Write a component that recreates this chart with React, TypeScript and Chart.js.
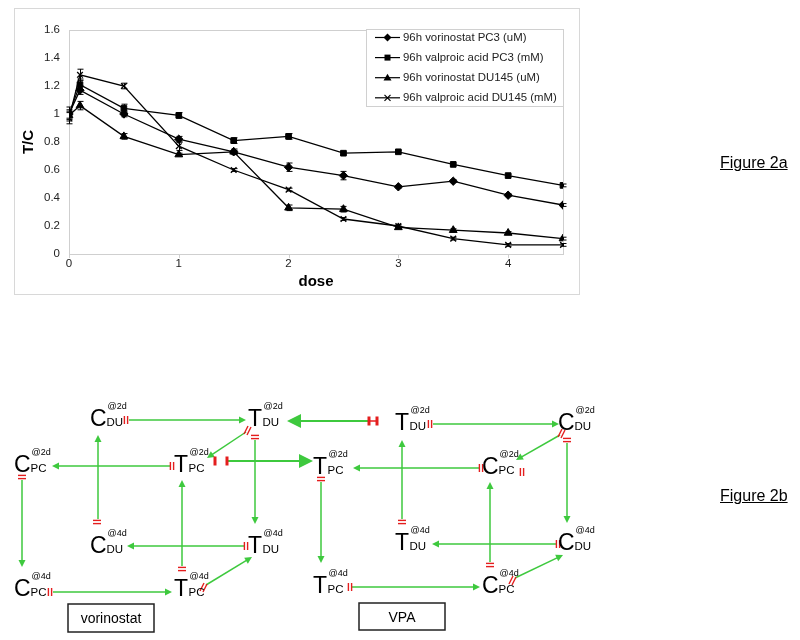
import React, { useEffect, useRef } from 'react';
import { Chart, registerables } from 'chart.js';

Chart.register(...registerables);

// ---------- DATA ----------
const doses = [0, 0.1, 0.5, 1, 1.5, 2, 2.5, 3, 3.5, 4, 4.5];
const vorinostatPC3 = [1.0, 1.17, 1.0, 0.82, 0.73, 0.62, 0.56, 0.48, 0.52, 0.42, 0.35];
const vorinostatPC3Err = [0.03, 0.03, 0.02, 0.02, 0.01, 0.03, 0.03, 0.01, 0.01, 0.01, 0.01];
const valproicPC3 = [1.0, 1.21, 1.04, 0.99, 0.81, 0.84, 0.72, 0.73, 0.64, 0.56, 0.49];
const valproicPC3Err = [0.05, 0.04, 0.03, 0.02, 0.02, 0.02, 0.01, 0.01, 0.01, 0.01, 0.01];
const vorinostatDU145 = [0.99, 1.06, 0.84, 0.71, 0.73, 0.33, 0.32, 0.19, 0.17, 0.15, 0.11];
const vorinostatDU145Err = [0.03, 0.03, 0.02, 0.01, 0.02, 0.02, 0.02, 0.01, 0.01, 0.01, 0.01];
const valproicDU145 = [0.97, 1.28, 1.2, 0.77, 0.6, 0.46, 0.25, 0.2, 0.11, 0.065, 0.065];
const valproicDU145Err = [0.04, 0.04, 0.02, 0.03, 0.01, 0.01, 0.01, 0.01, 0.01, 0.01, 0.01];
const seriesLabels = [
  '96h vorinostat PC3 (uM)',
  '96h valproic acid PC3 (mM)',
  '96h vorinostat DU145 (uM)',
  '96h valproic acid DU145 (mM)',
];
const xTickValues = [0, 1, 2, 3, 4];
const yTickValues = [0, 0.2, 0.4, 0.6, 0.8, 1, 1.2, 1.4, 1.6];
const xTitle = 'dose';
const yTitle = 'T/C';

const seriesValues = [vorinostatPC3, valproicPC3, vorinostatDU145, valproicDU145];
const seriesErrors = [vorinostatPC3Err, valproicPC3Err, vorinostatDU145Err, valproicDU145Err];
const pointStyles = ['rectRot', 'rect', 'triangle', 'crossRot'];
const pointRadii = [4.2, 4, 4.5, 4];

const FONT = '"Liberation Sans", Arial, Helvetica, sans-serif';

function drawMarker(ctx: CanvasRenderingContext2D, style: string, x: number, y: number, r: number) {
  ctx.save();
  ctx.fillStyle = '#000';
  ctx.strokeStyle = '#000';
  ctx.lineWidth = 1.2;
  ctx.beginPath();
  if (style === 'rectRot') {
    ctx.moveTo(x, y - r); ctx.lineTo(x + r, y); ctx.lineTo(x, y + r); ctx.lineTo(x - r, y); ctx.closePath(); ctx.fill();
  } else if (style === 'rect') {
    const s = r * 0.75;
    ctx.rect(x - s, y - s, 2 * s, 2 * s); ctx.fill();
  } else if (style === 'triangle') {
    ctx.moveTo(x, y - r); ctx.lineTo(x + r, y + r * 0.7); ctx.lineTo(x - r, y + r * 0.7); ctx.closePath(); ctx.fill();
  } else {
    const s = r * 0.75;
    ctx.moveTo(x - s, y - s); ctx.lineTo(x + s, y + s); ctx.moveTo(x + s, y - s); ctx.lineTo(x - s, y + s); ctx.stroke();
  }
  ctx.restore();
}

const framePlugin = {
  id: 'frame',
  beforeDatasetsDraw(chart: any) {
    const { ctx, chartArea } = chart;
    const { left, right, top, bottom } = chartArea;
    ctx.save();
    ctx.strokeStyle = '#cfcfcf';
    ctx.lineWidth = 1;
    ctx.strokeRect(Math.round(left) + 0.5, Math.round(top) + 0.5, Math.round(right - left), Math.round(bottom - top));
    const xs = chart.scales.x;
    ctx.beginPath();
    xTickValues.forEach((v) => {
      const px = Math.round(xs.getPixelForValue(v)) + 0.5;
      ctx.moveTo(px, Math.round(bottom));
      ctx.lineTo(px, Math.round(bottom) + 4);
    });
    ctx.stroke();
    ctx.restore();
  },
};

const errorBarPlugin = {
  id: 'errbars',
  afterDatasetsDraw(chart: any) {
    const { ctx } = chart;
    const ys = chart.scales.y;
    ctx.save();
    ctx.strokeStyle = '#000';
    ctx.lineWidth = 1;
    chart.data.datasets.forEach((ds: any, di: number) => {
      const meta = chart.getDatasetMeta(di);
      meta.data.forEach((pt: any, i: number) => {
        const v = seriesValues[di][i];
        const e = seriesErrors[di][i];
        const y1 = ys.getPixelForValue(v + e);
        const y2 = ys.getPixelForValue(v - e);
        const x = Math.round(pt.x) + 0.5;
        ctx.beginPath();
        ctx.moveTo(x, y1); ctx.lineTo(x, y2);
        ctx.moveTo(x - 3, y1); ctx.lineTo(x + 3, y1);
        ctx.moveTo(x - 3, y2); ctx.lineTo(x + 3, y2);
        ctx.stroke();
      });
    });
    ctx.restore();
  },
};

const legendPlugin = {
  id: 'xlLegend',
  afterDraw(chart: any) {
    const { ctx } = chart;
    const bx = 351.5, by = 20.5, bw = 197, bh = 77;
    ctx.save();
    ctx.fillStyle = '#fff';
    ctx.fillRect(bx, by, bw, bh);
    ctx.strokeStyle = '#d0d0d0';
    ctx.lineWidth = 1;
    ctx.strokeRect(bx, by, bw, bh);
    ctx.font = `11.4px ${FONT}`;
    ctx.textBaseline = 'middle';
    ctx.textAlign = 'left';
    seriesLabels.forEach((label, i) => {
      const y = 28.5 + i * 20.1;
      ctx.strokeStyle = '#000';
      ctx.lineWidth = 1.2;
      ctx.beginPath();
      ctx.moveTo(360, y); ctx.lineTo(385, y);
      ctx.stroke();
      drawMarker(ctx, pointStyles[i], 372.5, y, 4);
      ctx.fillStyle = '#222';
      ctx.fillText(label, 388, y + 0.5);
    });
    ctx.restore();
  },
};

function ChartPanel() {
  const ref = useRef<HTMLCanvasElement | null>(null);
  useEffect(() => {
    if (!ref.current) return;
    const chart = new Chart(ref.current, {
      type: 'line',
      data: {
        datasets: seriesValues.map((vals, si) => ({
          label: seriesLabels[si],
          data: doses.map((d, i) => ({ x: d, y: vals[i] })),
          borderColor: '#000',
          backgroundColor: '#000',
          borderWidth: 1.3,
          pointStyle: pointStyles[si] as any,
          pointRadius: pointRadii[si],
          pointBorderWidth: si === 3 ? 1.3 : 1,
          pointBorderColor: '#000',
          pointBackgroundColor: '#000',
          tension: 0,
          fill: false,
        })),
      },
      options: {
        animation: false,
        responsive: false,
        maintainAspectRatio: false,
        events: [],
        layout: { padding: { top: 21, right: 16, left: 0, bottom: 0 } },
        plugins: { legend: { display: false }, tooltip: { enabled: false } },
        scales: {
          x: {
            type: 'linear',
            min: 0,
            max: 4.5,
            afterBuildTicks: (s: any) => { s.ticks = xTickValues.map((v) => ({ value: v })); },
            afterFit: (s: any) => { s.height = 40; },
            grid: { display: false, drawTicks: false },
            border: { display: false },
            ticks: {
              padding: 3,
              autoSkip: false,
              maxRotation: 0,
              color: '#222',
              font: { family: FONT, size: 11.5 },
              callback: (v: any) => String(v),
            },
            title: {
              display: true,
              text: xTitle,
              color: '#000',
              font: { family: FONT, size: 15, weight: 'bold' },
              padding: { top: 0, bottom: 3 },
            },
          },
          y: {
            type: 'linear',
            min: 0,
            max: 1.6,
            afterBuildTicks: (s: any) => { s.ticks = yTickValues.map((v) => ({ value: v })); },
            afterFit: (s: any) => { s.width = 54; },
            grid: { display: false, drawTicks: false },
            border: { display: false },
            ticks: {
              padding: 9,
              color: '#222',
              font: { family: FONT, size: 11.5 },
              callback: (v: any) => String(Math.round(Number(v) * 10) / 10),
            },
            title: {
              display: true,
              text: yTitle,
              color: '#000',
              font: { family: FONT, size: 15, weight: 'bold' },
              padding: { top: 4.5, bottom: 0 },
            },
          },
        },
      } as any,
      plugins: [framePlugin, errorBarPlugin, legendPlugin],
    });
    return () => chart.destroy();
  }, []);
  return (
    <div
      style={{
        position: 'absolute', left: 14, top: 8, width: 566, height: 287,
        border: '1px solid #d8d8d8', boxSizing: 'border-box', background: '#fff',
      }}
    >
      <canvas ref={ref} width={564} height={285} style={{ display: 'block', width: 564, height: 285 }} />
    </div>
  );
}

// ---------- DIAGRAM (Figure 2b) ----------
type Node = { L: string; s: string; p: string; x: number; y: number };
const diagramNodes: Node[] = [
  { L: 'C', s: 'DU', p: '@2d', x: 90, y: 426 },
  { L: 'T', s: 'DU', p: '@2d', x: 248, y: 426 },
  { L: 'C', s: 'PC', p: '@2d', x: 14, y: 472 },
  { L: 'T', s: 'PC', p: '@2d', x: 174, y: 472 },
  { L: 'C', s: 'DU', p: '@4d', x: 90, y: 553 },
  { L: 'T', s: 'DU', p: '@4d', x: 248, y: 553 },
  { L: 'C', s: 'PC', p: '@4d', x: 14, y: 596 },
  { L: 'T', s: 'PC', p: '@4d', x: 174, y: 596 },
  { L: 'T', s: 'DU', p: '@2d', x: 395, y: 430 },
  { L: 'C', s: 'DU', p: '@2d', x: 558, y: 430 },
  { L: 'T', s: 'PC', p: '@2d', x: 313, y: 474 },
  { L: 'C', s: 'PC', p: '@2d', x: 482, y: 474 },
  { L: 'T', s: 'DU', p: '@4d', x: 395, y: 550 },
  { L: 'C', s: 'DU', p: '@4d', x: 558, y: 550 },
  { L: 'T', s: 'PC', p: '@4d', x: 313, y: 593 },
  { L: 'C', s: 'PC', p: '@4d', x: 482, y: 593 },
];

type Mark = 'v' | 'h' | 'd';
type Arrow = { x1: number; y1: number; x2: number; y2: number; mark: Mark; mx: number; my: number };
const diagramArrows: Arrow[] = [
  { x1: 129, y1: 420, x2: 246, y2: 420, mark: 'v', mx: 126, my: 420 },
  { x1: 171, y1: 466, x2: 52, y2: 466, mark: 'v', mx: 172, my: 466 },
  { x1: 246, y1: 432, x2: 207, y2: 458, mark: 'd', mx: 248, my: 430 },
  { x1: 255, y1: 440, x2: 255, y2: 524, mark: 'h', mx: 255, my: 437 },
  { x1: 98, y1: 519, x2: 98, y2: 435, mark: 'h', mx: 97, my: 522 },
  { x1: 182, y1: 566, x2: 182, y2: 480, mark: 'h', mx: 182, my: 569 },
  { x1: 22, y1: 480, x2: 22, y2: 567, mark: 'h', mx: 22, my: 477 },
  { x1: 244, y1: 546, x2: 127, y2: 546, mark: 'v', mx: 246, my: 546 },
  { x1: 53, y1: 592, x2: 172, y2: 592, mark: 'v', mx: 50, my: 592 },
  { x1: 206, y1: 585, x2: 252, y2: 557, mark: 'd', mx: 204, my: 587 },
  { x1: 433, y1: 424, x2: 559, y2: 424, mark: 'v', mx: 430, my: 424 },
  { x1: 480, y1: 468, x2: 353, y2: 468, mark: 'v', mx: 481, my: 468 },
  { x1: 560, y1: 435, x2: 516, y2: 460, mark: 'd', mx: 562, my: 433 },
  { x1: 567, y1: 443, x2: 567, y2: 523, mark: 'h', mx: 567, my: 440 },
  { x1: 402, y1: 519, x2: 402, y2: 440, mark: 'h', mx: 402, my: 522 },
  { x1: 557, y1: 544, x2: 432, y2: 544, mark: 'v', mx: 558, my: 544 },
  { x1: 490, y1: 562, x2: 490, y2: 482, mark: 'h', mx: 490, my: 565 },
  { x1: 515, y1: 578, x2: 563, y2: 555, mark: 'd', mx: 513, my: 580 },
  { x1: 321, y1: 482, x2: 321, y2: 563, mark: 'h', mx: 321, my: 479 },
  { x1: 352, y1: 587, x2: 480, y2: 587, mark: 'v', mx: 350, my: 587 },
];
const bigArrows = [
  { x1: 228, y1: 461, x2: 313, y2: 461, bars: [215, 227] },
  { x1: 368, y1: 421, x2: 287, y2: 421, bars: [369, 377] },
];
const extraMarks = [{ mark: 'v' as Mark, mx: 522, my: 472 }];
const methodBoxes = [
  { label: 'vorinostat', x: 68, y: 604, w: 86, h: 28 },
  { label: 'VPA', x: 359, y: 603, w: 86, h: 27 },
];

const GREEN = '#3ec93e';
const RED = '#e41e1e';

function markEl(mark: Mark, x: number, y: number, key: string) {
  if (mark === 'v') {
    return (
      <g key={key} stroke={RED} strokeWidth={1.4}>
        <line x1={x - 1.6} y1={y - 4} x2={x - 1.6} y2={y + 4} />
        <line x1={x + 1.6} y1={y - 4} x2={x + 1.6} y2={y + 4} />
      </g>
    );
  }
  if (mark === 'h') {
    return (
      <g key={key} stroke={RED} strokeWidth={1.4}>
        <line x1={x - 4} y1={y - 1.6} x2={x + 4} y2={y - 1.6} />
        <line x1={x - 4} y1={y + 1.6} x2={x + 4} y2={y + 1.6} />
      </g>
    );
  }
  return (
    <g key={key} stroke={RED} strokeWidth={1.4}>
      <line x1={x - 4} y1={y + 4} x2={x} y2={y - 4} />
      <line x1={x - 1} y1={y + 5} x2={x + 3} y2={y - 3} />
    </g>
  );
}

function arrowEl(x1: number, y1: number, x2: number, y2: number, len: number, hw: number, sw: number, key: string) {
  const dx = x2 - x1, dy = y2 - y1;
  const d = Math.hypot(dx, dy);
  const ux = dx / d, uy = dy / d;
  const bx = x2 - ux * len, by = y2 - uy * len;
  const px = -uy * hw, py = ux * hw;
  return (
    <g key={key}>
      <line x1={x1} y1={y1} x2={bx + ux} y2={by + uy} stroke={GREEN} strokeWidth={sw} />
      <polygon points={`${x2},${y2} ${bx + px},${by + py} ${bx - px},${by - py}`} fill={GREEN} />
    </g>
  );
}

function Diagram() {
  const advance = (L: string) => (L === 'C' ? 16.5 : 14.5);
  return (
    <svg
      width={800}
      height={640}
      style={{ position: 'absolute', left: 0, top: 0 }}
      fontFamily={FONT}
    >
      {diagramArrows.map((a, i) => arrowEl(a.x1, a.y1, a.x2, a.y2, 7, 3.5, 1.5, 'a' + i))}
      {diagramArrows.map((a, i) => markEl(a.mark, a.mx, a.my, 'm' + i))}
      {bigArrows.map((b, i) => (
        <g key={'b' + i}>
          {arrowEl(b.x1, b.y1, b.x2, b.y2, 14, 7, 2, 'ba' + i)}
          {b.bars.map((bx, j) => (
            <rect key={j} x={bx - 1.5} y={b.y1 - 4.5} width={3} height={9} fill={RED} />
          ))}
          {i === 1 && <line x1={b.bars[0]} y1={b.y1} x2={b.bars[1]} y2={b.y1} stroke={RED} strokeWidth={1.5} />}
        </g>
      ))}
      {extraMarks.map((m, i) => markEl(m.mark, m.mx, m.my, 'e' + i))}
      {diagramNodes.map((n, i) => (
        <g key={'n' + i} fill="#000">
          <text x={n.x} y={n.y} fontSize={23}>{n.L}</text>
          <text x={n.x + advance(n.L)} y={n.y} fontSize={11.5}>{n.s}</text>
          <text x={n.x + advance(n.L) + 1} y={n.y - 17} fontSize={9}>{n.p}</text>
        </g>
      ))}
      {methodBoxes.map((b, i) => (
        <g key={'box' + i}>
          <rect x={b.x} y={b.y} width={b.w} height={b.h} fill="#fff" stroke="#222" strokeWidth={1.5} />
          <text x={b.x + b.w / 2} y={b.y + b.h / 2 + 5} fontSize={14} textAnchor="middle" fill="#000">
            {b.label}
          </text>
        </g>
      ))}
    </svg>
  );
}

export default function App() {
  const labelStyle: React.CSSProperties = {
    position: 'absolute', left: 720, fontFamily: FONT, fontSize: 16, lineHeight: '18px',
    textDecoration: 'underline', color: '#000', whiteSpace: 'nowrap',
  };
  return (
    <div style={{ position: 'absolute', left: 0, top: 0, width: 800, height: 640, background: '#fff', overflow: 'hidden' }}>
      <ChartPanel />
      <Diagram />
      <div style={{ ...labelStyle, top: 154 }}>Figure 2a</div>
      <div style={{ ...labelStyle, top: 487 }}>Figure 2b</div>
    </div>
  );
}
